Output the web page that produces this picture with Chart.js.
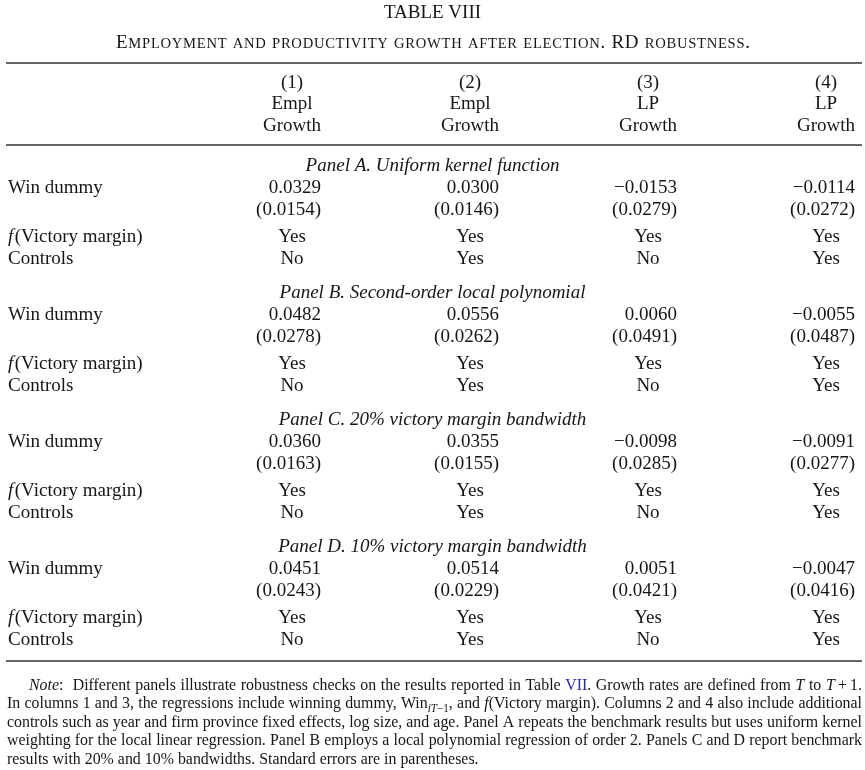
<!DOCTYPE html>
<html>
<head>
<meta charset="utf-8">
<script src="https://cdn.jsdelivr.net/npm/chart.js@4.4.0/dist/chart.umd.min.js"></script>
<style>
    html, body { margin: 0; padding: 0; background: #fff; }
    #wrap { position: relative; width: 865px; height: 770px; }
</style>
</head>
<body>
<div id="wrap"><canvas id="tableChart"></canvas></div>
<script>
// Table content
const tableTitle = 'TABLE VIII';
const tableSubtitle = 'Employment and productivity growth after election. RD robustness.';
const columnNums = ['(1)', '(2)', '(3)', '(4)'];
const columnVars = ['Empl', 'Empl', 'LP', 'LP'];
const columnGrowth = ['Growth', 'Growth', 'Growth', 'Growth'];
const panelTitles = [
    'Panel A. Uniform kernel function',
    'Panel B. Second-order local polynomial',
    'Panel C. 20% victory margin bandwidth',
    'Panel D. 10% victory margin bandwidth'
];
const winCoefA = [0.0329, 0.0300, -0.0153, -0.0114];
const winSeA = [0.0154, 0.0146, 0.0279, 0.0272];
const winCoefB = [0.0482, 0.0556, 0.0060, -0.0055];
const winSeB = [0.0278, 0.0262, 0.0491, 0.0487];
const winCoefC = [0.0360, 0.0355, -0.0098, -0.0091];
const winSeC = [0.0163, 0.0155, 0.0285, 0.0277];
const winCoefD = [0.0451, 0.0514, 0.0051, -0.0047];
const winSeD = [0.0243, 0.0229, 0.0421, 0.0416];
const victoryMargin = ['Yes', 'Yes', 'Yes', 'Yes'];
const controls = ['No', 'Yes', 'No', 'Yes'];
const noteLines = [
    [['Note', 'i'], [':  Different panels illustrate robustness checks on the results reported in Table ', 'r'], ['VII', 'b'], ['. Growth rates are defined from ', 'r'], ['T', 'i'], [' to ', 'r'], ['T', 'i'], ['\u2009+\u20091.', 'r']],
    [['In columns 1 and 3, the regressions include winning dummy, Win', 'r'], ['iT', 'si'], ['\u22121', 's'], [', and ', 'r'], ['f', 'i'], ['(Victory margin). Columns 2 and 4 also include additional', 'r']],
    [['controls such as year and firm province fixed effects, log size, and age. Panel A repeats the benchmark results but uses uniform kernel', 'r']],
    [['weighting for the local linear regression. Panel B employs a local polynomial regression of order 2. Panels C and D report benchmark', 'r']],
    [['results with 20% and 10% bandwidths. Standard errors are in parentheses.', 'r']]
];

const coefs = [winCoefA, winCoefB, winCoefC, winCoefD];
const ses = [winSeA, winSeB, winSeC, winSeD];

// Layout (pixels on the y scale, column index on the x scale)
const FONT = "'Liberation Serif', 'Times New Roman', serif";
const INK = '#161616';
const layout = {
    titleY: 13, subtitleY: 41, ruleTop: 63, headY: [83, 104, 126], ruleMid: 145,
    panelY: 166, panelStep: 127, winOff: 22, seOff: 44, fOff: 71, ctrlOff: 93,
    ruleBottom: 661, noteY: 684, noteStep: 18.5
};
const colPx = 178, firstColPx = 292, W = 865, H = 770;

function fmt(v) { return (v < 0 ? '\u2212' : '') + Math.abs(v).toFixed(4); }

const cellPoints = [];
coefs.forEach((arr, p) => arr.forEach((v, c) => {
    cellPoints.push({ x: c, y: layout.panelY + p * layout.panelStep + layout.winOff, text: fmt(v) });
    cellPoints.push({ x: c, y: layout.panelY + p * layout.panelStep + layout.seOff, text: '(' + fmt(ses[p][c]) + ')' });
}));

const tablePlugin = {
    id: 'tableText',
    afterDraw(chart) {
        const ctx = chart.ctx;
        const xs = chart.scales.x, ys = chart.scales.y;
        const X = v => xs.getPixelForValue(v);
        const Y = v => ys.getPixelForValue(v);
        const labelX = 8;
        ctx.save();
        ctx.fillStyle = INK;
        ctx.textBaseline = 'middle';

        // title
        ctx.font = '19px ' + FONT;
        ctx.textAlign = 'center';
        ctx.fillText(tableTitle, W / 2, Y(layout.titleY));

        // subtitle in small caps, tracked out to the reference width
        const big = 19, small = 14.6, subLeft = 116, subRight = 750;
        const parts = [];
        for (const ch of tableSubtitle) {
            const lower = ch !== ch.toUpperCase();
            parts.push({ t: ch.toUpperCase(), s: lower ? small : big });
        }
        let total = 0;
        parts.forEach(p => { ctx.font = p.s + 'px ' + FONT; p.w = ctx.measureText(p.t).width; total += p.w; });
        const track = (subRight - subLeft - total) / (parts.length - 1);
        let sx = subLeft;
        ctx.textAlign = 'left';
        ctx.textBaseline = 'alphabetic';
        parts.forEach(p => { ctx.font = p.s + 'px ' + FONT; ctx.fillText(p.t, sx, Y(layout.subtitleY) + 6.5); sx += p.w + track; });
        ctx.textBaseline = 'middle';

        // rules
        ctx.strokeStyle = '#333';
        ctx.lineWidth = 1.6;
        [layout.ruleTop, layout.ruleMid, layout.ruleBottom].forEach(r => {
            ctx.beginPath();
            ctx.moveTo(6, Y(r));
            ctx.lineTo(862, Y(r));
            ctx.stroke();
        });

        // header
        ctx.font = '19px ' + FONT;
        ctx.textAlign = 'center';
        [columnNums, columnVars, columnGrowth].forEach((row, i) => {
            row.forEach((t, c) => ctx.fillText(t, X(c), Y(layout.headY[i])));
        });

        // panels
        panelTitles.forEach((title, p) => {
            const base = layout.panelY + p * layout.panelStep;
            ctx.font = 'italic 19px ' + FONT;
            ctx.textAlign = 'center';
            ctx.fillText(title, W / 2, Y(base));

            ctx.font = '19px ' + FONT;
            ctx.textAlign = 'left';
            ctx.fillText('Win dummy', labelX, Y(base + layout.winOff));
            ctx.font = 'italic 19px ' + FONT;
            ctx.fillText('f', labelX, Y(base + layout.fOff));
            const fw = ctx.measureText('f').width + 1.5;
            ctx.font = '19px ' + FONT;
            ctx.fillText('(Victory margin)', labelX + fw, Y(base + layout.fOff));
            ctx.fillText('Controls', labelX, Y(base + layout.ctrlOff));

            ctx.textAlign = 'center';
            victoryMargin.forEach((t, c) => ctx.fillText(t, X(c), Y(base + layout.fOff)));
            controls.forEach((t, c) => ctx.fillText(t, X(c), Y(base + layout.ctrlOff)));
        });

        // coefficient and standard error cells, from the dataset elements
        const meta = chart.getDatasetMeta(0);
        ctx.font = '19px ' + FONT;
        ctx.textAlign = 'right';
        meta.data.forEach((el, i) => {
            ctx.fillText(cellPoints[i].text, el.x + 29, el.y);
        });

        // note, justified
        const styleFont = s => {
            if (s === 'i') return 'italic 16.4px ' + FONT;
            if (s === 'si') return 'italic 11.5px ' + FONT;
            if (s === 's') return '11.5px ' + FONT;
            return '16.4px ' + FONT;
        };
        const squeeze = 0.97;
        ctx.textAlign = 'left';
        ctx.textBaseline = 'alphabetic';
        noteLines.forEach((line, li) => {
            const left = li === 0 ? 29 : 7, right = 862;
            const toks = [];
            line.forEach(([text, s]) => {
                text.split(/( )/).forEach(t => { if (t !== '') toks.push({ t, s }); });
            });
            let nat = 0, spaces = 0;
            toks.forEach(tk => {
                ctx.font = styleFont(tk.s);
                tk.w = ctx.measureText(tk.t).width * squeeze;
                nat += tk.w;
                if (tk.t === ' ') spaces++;
            });
            const extra = li < noteLines.length - 1 && spaces ? (right - left - nat) / spaces : 0;
            let x = left;
            const by = Y(layout.noteY + li * layout.noteStep) + 5.5;
            toks.forEach(tk => {
                ctx.font = styleFont(tk.s);
                ctx.fillStyle = tk.s === 'b' ? '#2a2a9a' : INK;
                const dy = (tk.s === 's' || tk.s === 'si') ? 3.5 : 0;
                ctx.save();
                ctx.translate(x, by + dy);
                ctx.scale(squeeze, 1);
                ctx.fillText(tk.t, 0, 0);
                ctx.restore();
                x += tk.w + (tk.t === ' ' ? extra : 0);
            });
        });
        ctx.restore();
    }
};

new Chart(document.getElementById('tableChart'), {
    type: 'scatter',
    data: {
        datasets: [{
            data: cellPoints.map(p => ({ x: p.x, y: p.y })),
            pointRadius: 0,
            pointHoverRadius: 0
        }]
    },
    options: {
        responsive: true,
        maintainAspectRatio: false,
        animation: false,
        events: [],
        layout: { padding: 0 },
        plugins: { legend: { display: false }, tooltip: { enabled: false } },
        scales: {
            x: { type: 'linear', display: false, min: -firstColPx / colPx, max: (W - firstColPx) / colPx },
            y: { type: 'linear', display: false, reverse: true, min: 0, max: H }
        }
    },
    plugins: [tablePlugin]
});
</script>
</body>
</html>
